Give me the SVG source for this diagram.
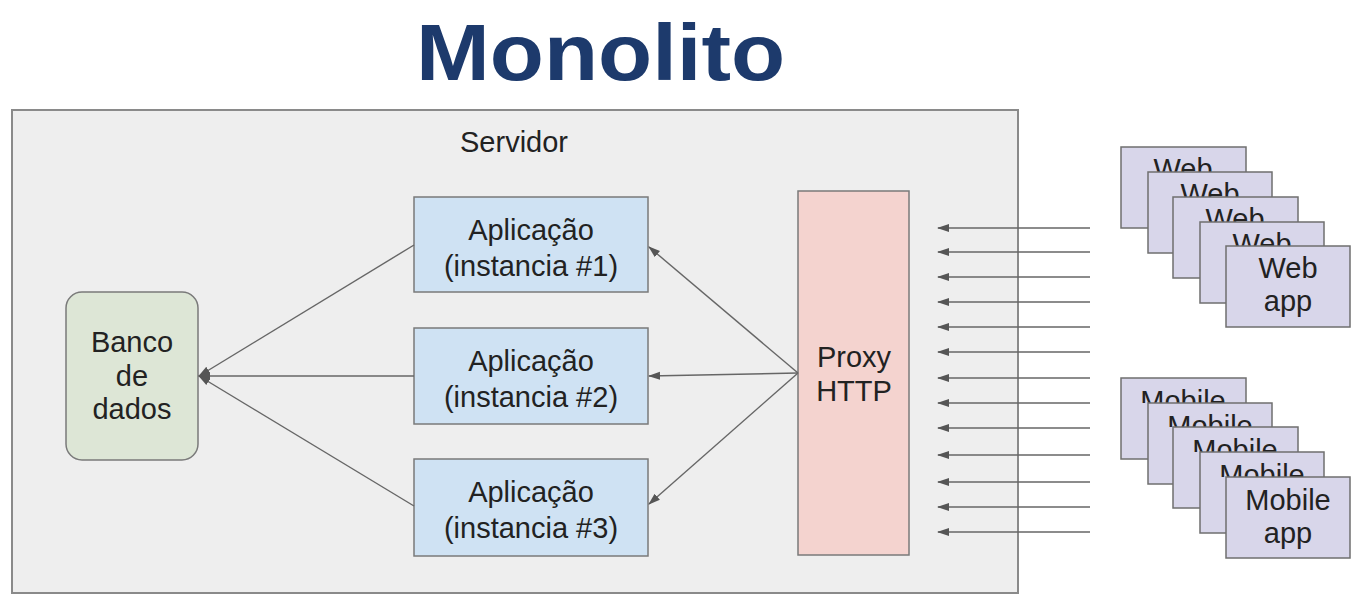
<svg xmlns="http://www.w3.org/2000/svg" width="1358" height="598" viewBox="0 0 1358 598">
<style>
text{font-family:"Liberation Sans",Arial,sans-serif;font-size:29px;fill:#222;text-anchor:middle}
.title{font-size:80px;font-weight:bold;fill:#1d3a6c;text-anchor:start}
.srv{fill:#eeeeee;stroke:#8a8a8a;stroke-width:2}
.app{fill:#cfe2f3;stroke:#7a7a7a;stroke-width:1.5}
.proxy{fill:#f4d3cf;stroke:#7a7a7a;stroke-width:1.5}
.db{fill:#dde6d6;stroke:#7a7a7a;stroke-width:1.5}
.cli{fill:#d8d6ea;stroke:#6f6f6f;stroke-width:1.5}
.con{stroke:#666;stroke-width:1.4;fill:none;marker-end:url(#ah)}
</style>
<defs>
<marker id="ah" markerUnits="userSpaceOnUse" markerWidth="12" markerHeight="10" viewBox="0 0 12 10" refX="11" refY="5" orient="auto">
<path d="M0,1 L12,5 L0,9 Z" fill="#555"/>
</marker>
<clipPath id="w1"><rect x="1121" y="147" width="125" height="25"/></clipPath>
<clipPath id="w2"><rect x="1148" y="172" width="124" height="25"/></clipPath>
<clipPath id="w3"><rect x="1173" y="197" width="125" height="25"/></clipPath>
<clipPath id="w4"><rect x="1200" y="222" width="124" height="24"/></clipPath>
<clipPath id="m1"><rect x="1121" y="378" width="125" height="25"/></clipPath>
<clipPath id="m2"><rect x="1148" y="403" width="124" height="24"/></clipPath>
<clipPath id="m3"><rect x="1173" y="427" width="125" height="25"/></clipPath>
<clipPath id="m4"><rect x="1200" y="452" width="124" height="25"/></clipPath>
</defs>
<rect width="1358" height="598" fill="#ffffff"/>
<text class="title" x="416" y="80" textLength="369" lengthAdjust="spacingAndGlyphs">Monolito</text>
<g id="servidor">
<rect class="srv" x="12" y="110" width="1006" height="483"/>
<text x="514" y="152">Servidor</text>
</g>
<g id="banco">
<rect class="db" x="66" y="292" width="132" height="168" rx="16"/>
<text x="132" y="352">Banco</text>
<text x="132" y="386">de</text>
<text x="132" y="419">dados</text>
</g>
<g id="app1">
<rect class="app" x="414" y="197" width="234" height="95"/>
<text x="531" y="240">Aplicação</text>
<text x="531" y="276">(instancia #1)</text>
</g>
<g id="app2">
<rect class="app" x="414" y="328" width="234" height="96"/>
<text x="531" y="371">Aplicação</text>
<text x="531" y="407">(instancia #2)</text>
</g>
<g id="app3">
<rect class="app" x="414" y="459" width="234" height="97"/>
<text x="531" y="502">Aplicação</text>
<text x="531" y="538">(instancia #3)</text>
</g>
<g id="proxy">
<rect class="proxy" x="798" y="191" width="111" height="364"/>
<text x="854" y="367">Proxy</text>
<text x="854" y="401">HTTP</text>
</g>
<g id="web-apps">
<rect class="cli" x="1121" y="147" width="125" height="81"/><text x="1183" y="179" clip-path="url(#w1)">Web</text>
<rect class="cli" x="1148" y="172" width="124" height="81"/><text x="1210" y="204" clip-path="url(#w2)">Web</text>
<rect class="cli" x="1173" y="197" width="125" height="81"/><text x="1235" y="229" clip-path="url(#w3)">Web</text>
<rect class="cli" x="1200" y="222" width="124" height="81"/><text x="1262" y="254" clip-path="url(#w4)">Web</text>
<rect class="cli" x="1226" y="246" width="124" height="81"/><text x="1288" y="278">Web</text><text x="1288" y="311">app</text>
</g>
<g id="mobile-apps">
<rect class="cli" x="1121" y="378" width="125" height="81"/><text x="1183" y="411" clip-path="url(#m1)">Mobile</text>
<rect class="cli" x="1148" y="403" width="124" height="81"/><text x="1210" y="436" clip-path="url(#m2)">Mobile</text>
<rect class="cli" x="1173" y="427" width="125" height="81"/><text x="1235" y="460" clip-path="url(#m3)">Mobile</text>
<rect class="cli" x="1200" y="452" width="124" height="81"/><text x="1262" y="485" clip-path="url(#m4)">Mobile</text>
<rect class="cli" x="1226" y="477" width="124" height="81"/><text x="1288" y="510">Mobile</text><text x="1288" y="543">app</text>
</g>
<g id="connectors">
<line class="con" x1="798" y1="373" x2="649" y2="247"/>
<line class="con" x1="798" y1="373" x2="649" y2="376"/>
<line class="con" x1="798" y1="373" x2="649" y2="504"/>
<line class="con" x1="414" y1="245" x2="199" y2="376"/>
<line class="con" x1="414" y1="376" x2="199" y2="376"/>
<line class="con" x1="414" y1="506" x2="199" y2="376"/>
<line class="con" x1="1090" y1="228" x2="938" y2="228"/>
<line class="con" x1="1090" y1="252" x2="938" y2="252"/>
<line class="con" x1="1090" y1="277" x2="938" y2="277"/>
<line class="con" x1="1090" y1="302" x2="938" y2="302"/>
<line class="con" x1="1090" y1="327" x2="938" y2="327"/>
<line class="con" x1="1090" y1="352" x2="938" y2="352"/>
<line class="con" x1="1090" y1="378" x2="938" y2="378"/>
<line class="con" x1="1090" y1="403" x2="938" y2="403"/>
<line class="con" x1="1090" y1="428" x2="938" y2="428"/>
<line class="con" x1="1090" y1="455" x2="938" y2="455"/>
<line class="con" x1="1090" y1="482" x2="938" y2="482"/>
<line class="con" x1="1090" y1="507" x2="938" y2="507"/>
<line class="con" x1="1090" y1="532" x2="938" y2="532"/>
</g>
</svg>
